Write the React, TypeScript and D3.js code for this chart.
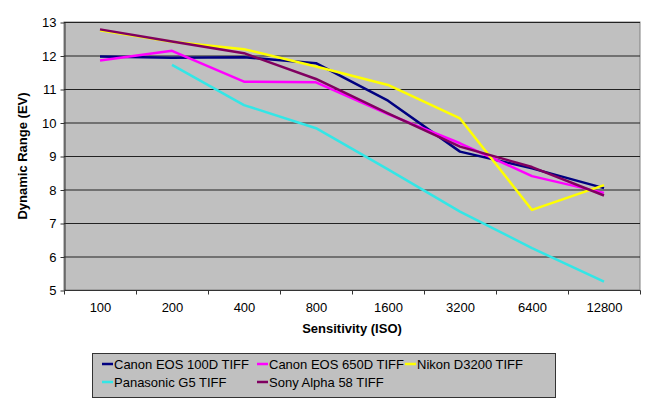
import React, { useEffect, useRef } from 'react';
import * as d3 from 'd3';

const isoLabels = ['100', '200', '400', '800', '1600', '3200', '6400', '12800'];
const yTicks = [5, 6, 7, 8, 9, 10, 11, 12, 13];

const canon100D = [11.97, 11.93, 11.95, 11.77, 10.65, 9.13, 8.63, 8.04];
const canon650D = [11.85, 12.14, 11.22, 11.2, 10.25, 9.38, 8.4, 7.9];
const nikonD3200 = [12.75, 12.41, 12.19, 11.67, 11.12, 10.12, 7.39, 8.13];
const panasonicG5 = [null, 11.72, 10.52, 9.83, 8.6, 7.34, 6.25, 5.25];
const sonyA58 = [12.78, 12.42, 12.07, 11.3, 10.27, 9.28, 8.67, 7.82];

const seriesNames = [
    'Canon EOS 100D TIFF',
    'Canon EOS 650D TIFF',
    'Nikon D3200 TIFF',
    'Panasonic G5 TIFF',
    'Sony Alpha 58 TIFF',
];
const seriesColors = ['#000080', '#ff00ff', '#ffff00', '#33e6e6', '#800060'];

const FONT = '"Liberation Sans", Arial, sans-serif';

const DynamicRangeChart = ({ width, height }: { width: number; height: number }) => {
    const svgRef = useRef<SVGSVGElement>(null);

    useEffect(() => {
        const svg = d3.select(svgRef.current);
        svg.selectAll('*').remove();
        svg.attr('width', width).attr('height', height).style('font-family', FONT);

        const left = 64;
        const right = 640;
        const top = 22;
        const bottom = 290;

        const x = d3.scaleBand().domain(isoLabels).range([left, right]).padding(0);
        const y = d3.scaleLinear().domain([5, 13]).range([bottom, top]);
        const cx = (k: string) => (x(k) as number) + x.bandwidth() / 2;

        // plot background
        svg.append('rect')
            .attr('x', left)
            .attr('y', top)
            .attr('width', right - left)
            .attr('height', bottom - top)
            .attr('fill', '#c0c0c0')
            .attr('stroke', '#808080')
            .attr('stroke-width', 1);

        // gridlines
        svg.append('g')
            .selectAll('line')
            .data(yTicks.filter((t) => t !== 5))
            .enter()
            .append('line')
            .attr('x1', left)
            .attr('x2', right)
            .attr('y1', (d) => y(d) + 0.5)
            .attr('y2', (d) => y(d) + 0.5)
            .attr('stroke', '#222')
            .attr('stroke-width', 1);

        // y axis
        const yAxis = svg.append('g').attr('transform', `translate(${left + 0.5},0.5)`)
            .call(d3.axisLeft(y).tickValues(yTicks).tickSize(4).tickSizeOuter(0).tickPadding(4));
        yAxis.select('.domain').attr('stroke', '#333');
        yAxis.selectAll('.tick line').attr('stroke', '#333');
        yAxis.selectAll('text').style('font-size', '13px').style('font-family', FONT).attr('fill', '#000');

        // x axis: ticks at category boundaries
        const xg = svg.append('g').attr('transform', `translate(0.5,${bottom + 0.5})`);
        xg.append('line').attr('x1', left).attr('x2', right).attr('stroke', '#333');
        xg.selectAll('line.tk')
            .data(d3.range(isoLabels.length + 1))
            .enter()
            .append('line')
            .attr('class', 'tk')
            .attr('x1', (i) => left + i * x.bandwidth())
            .attr('x2', (i) => left + i * x.bandwidth())
            .attr('y1', 0)
            .attr('y2', 4)
            .attr('stroke', '#333');
        xg.selectAll('text')
            .data(isoLabels)
            .enter()
            .append('text')
            .attr('x', (d) => cx(d))
            .attr('y', 21)
            .attr('text-anchor', 'middle')
            .style('font-size', '13px')
            .text((d) => d);

        // axis titles
        svg.append('text')
            .attr('x', (left + right) / 2)
            .attr('y', 333)
            .attr('text-anchor', 'middle')
            .style('font-size', '13px')
            .style('font-weight', 'bold')
            .text('Sensitivity (ISO)');
        svg.append('text')
            .attr('transform', `translate(27,${(top + bottom) / 2}) rotate(-90)`)
            .attr('text-anchor', 'middle')
            .style('font-size', '13px')
            .style('font-weight', 'bold')
            .text('Dynamic Range (EV)');

        // lines
        const allSeries = [canon100D, canon650D, nikonD3200, panasonicG5, sonyA58];
        const line = d3
            .line<number | null>()
            .defined((d) => d !== null)
            .x((_, i) => cx(isoLabels[i]))
            .y((d) => y(d as number));

        svg.append('g')
            .selectAll('path')
            .data(allSeries)
            .enter()
            .append('path')
            .attr('d', (d) => line(d))
            .attr('fill', 'none')
            .attr('stroke', (_, i) => seriesColors[i])
            .attr('stroke-width', 2.5)
            .attr('stroke-linejoin', 'round');

        // legend
        const lx = 92;
        const ly = 353;
        svg.append('rect')
            .attr('x', lx + 0.5)
            .attr('y', ly + 0.5)
            .attr('width', 463)
            .attr('height', 44)
            .attr('fill', '#c0c0c0')
            .attr('stroke', '#333');

        const itemX = [102, 257, 405];
        const rowY = [364, 382];
        seriesNames.forEach((name, i) => {
            const col = i < 3 ? i : i - 3;
            const row = i < 3 ? 0 : 1;
            const g = svg.append('g').attr('transform', `translate(${itemX[col]},${rowY[row]})`);
            g.append('line')
                .attr('x1', 0)
                .attr('x2', 11)
                .attr('y1', 0)
                .attr('y2', 0)
                .attr('stroke', seriesColors[i])
                .attr('stroke-width', 2.5);
            g.append('text')
                .attr('x', 12)
                .attr('y', 5)
                .style('font-size', '13px')
                .text(name);
        });
    }, [width, height]);

    return <svg ref={svgRef} style={{ display: 'block' }} />;
};

export default function App() {
    return (
        <div style={{ position: 'absolute', left: 0, top: 0, background: '#fff' }}>
            <DynamicRangeChart width={650} height={399} />
        </div>
    );
}
